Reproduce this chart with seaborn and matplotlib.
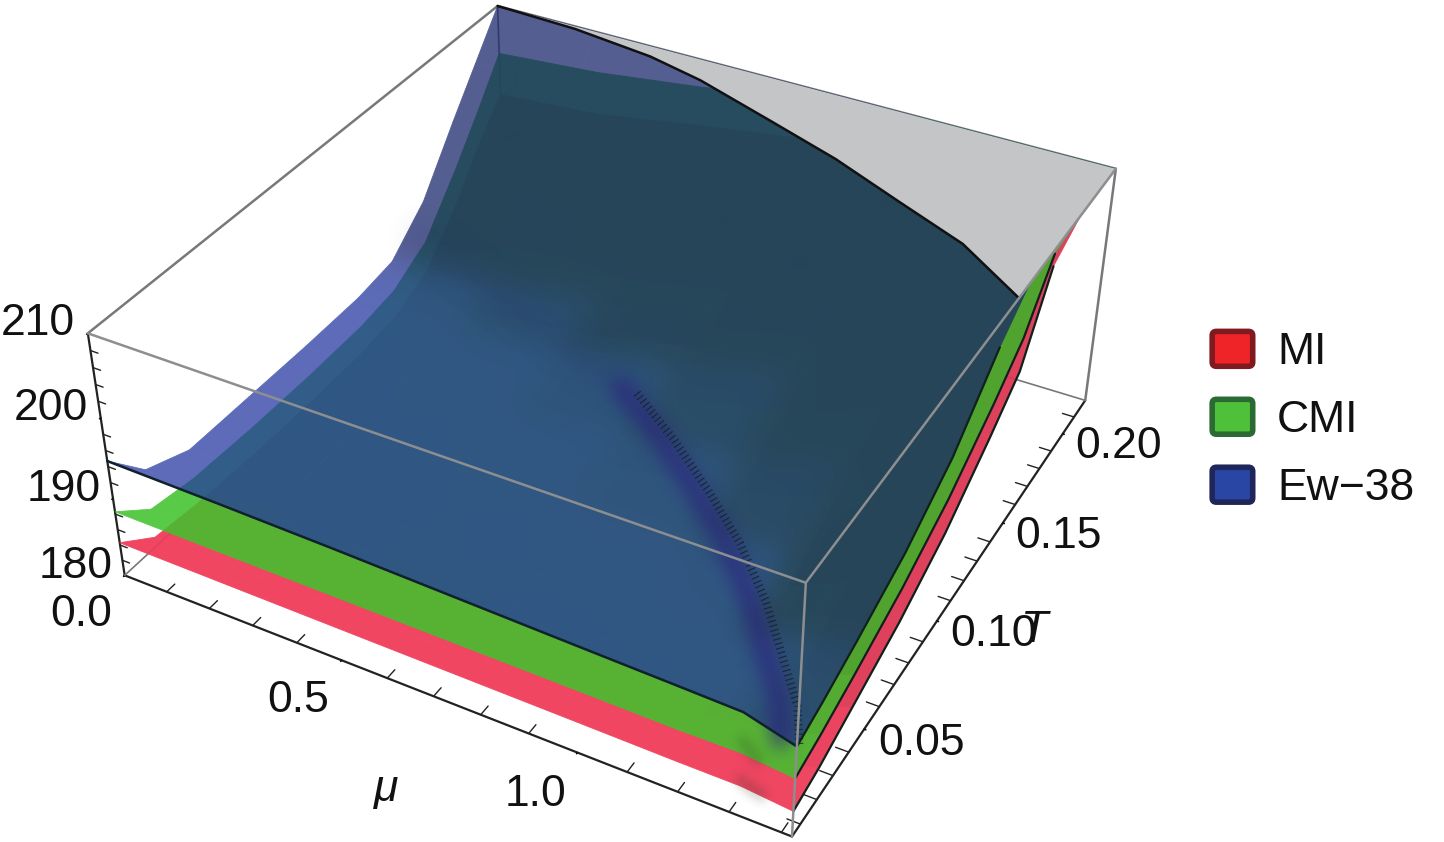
"""
Surfaces over the mu-T plane for three models (MI, CMI, Ew-38)
"""
import matplotlib
matplotlib.use("Agg")
import matplotlib.pyplot as plt
import seaborn as sns
import numpy as np
from matplotlib.legend_handler import HandlerPatch
from matplotlib.patches import FancyBboxPatch, Patch
from mpl_toolkits.mplot3d.art3d import Poly3DCollection

mu_values = [0.0, 0.25, 0.5, 0.75, 1.0, 1.2, 1.32, 1.42]
T_values = [0.005, 0.02, 0.04, 0.07, 0.10, 0.13, 0.15, 0.17, 0.19, 0.205, 0.22]

# one row per mu, one column per T
z_ew38 = [
    [194.7, 190.0, 187.8, 187.8, 187.8, 188.0, 188.8, 193.0, 200.0, 205.0, 210.0],
    [194.5, 190.0, 187.9, 187.8, 187.9, 188.5, 190.2, 194.0, 200.5, 206.0, 210.0],
    [194.2, 190.0, 188.0, 188.0, 188.6, 190.0, 192.0, 196.5, 203.0, 208.5, 210.0],
    [193.8, 190.0, 188.0, 188.6, 190.0, 192.5, 195.0, 199.5, 206.5, 210.0, 210.0],
    [193.4, 190.0, 188.5, 189.7, 192.2, 196.0, 199.5, 204.5, 210.0, 210.0, 210.0],
    [193.1, 190.0, 189.5, 192.0, 195.5, 200.5, 204.5, 209.5, 210.0, 210.0, 210.0],
    [192.9, 190.5, 192.0, 195.5, 199.5, 205.0, 208.8, 210.0, 210.0, 210.0, 210.0],
    [191.2, 192.2, 193.8, 196.5, 200.5, 206.8, 210.0, 210.0, 210.0, 210.0, 210.0],
]
z_cmi = [
    [188.3, 184.9, 184.0, 183.7, 183.7, 184.0, 184.8, 187.5, 193.5, 198.5, 203.8],
    [188.2, 184.9, 183.9, 183.7, 183.8, 184.4, 185.6, 188.5, 194.5, 199.5, 204.8],
    [188.1, 184.9, 184.0, 184.0, 184.5, 185.8, 187.4, 190.8, 196.5, 201.5, 206.5],
    [188.0, 184.9, 184.0, 184.6, 185.9, 188.1, 190.2, 193.6, 199.0, 204.0, 208.5],
    [187.9, 185.0, 184.4, 185.5, 187.8, 191.2, 194.2, 198.0, 203.5, 207.5, 210.0],
    [187.8, 185.2, 185.3, 187.6, 191.0, 195.2, 198.6, 203.0, 208.0, 210.0, 210.0],
    [187.9, 186.5, 187.6, 190.8, 194.5, 199.0, 202.5, 206.5, 210.0, 210.0, 210.0],
    [187.3, 188.2, 189.7, 192.2, 195.5, 200.0, 203.5, 209.5, 210.0, 210.0, 210.0],
]
z_mi = [
    [184.3, 181.2, 180.6, 180.2, 180.2, 180.5, 181.2, 183.5, 189.0, 194.0, 198.3],
    [184.2, 181.2, 180.5, 180.2, 180.3, 180.9, 182.0, 184.5, 190.0, 195.0, 199.3],
    [184.1, 181.2, 180.5, 180.5, 181.0, 182.2, 183.8, 186.8, 192.0, 197.0, 201.5],
    [184.0, 181.2, 180.5, 181.0, 182.3, 184.4, 186.5, 189.8, 195.0, 199.5, 203.5],
    [183.9, 181.2, 180.8, 181.8, 184.0, 187.2, 190.0, 194.0, 199.0, 202.5, 206.0],
    [183.8, 181.4, 181.6, 183.8, 187.0, 191.0, 194.3, 198.8, 203.5, 206.0, 208.0],
    [183.8, 182.5, 183.6, 186.6, 190.2, 194.8, 198.0, 202.5, 206.5, 208.5, 209.5],
    [183.2, 184.0, 185.6, 188.0, 191.3, 196.0, 199.5, 208.0, 210.0, 210.0, 210.0],
]

# where the Ew-38 surface meets the top of the box
cap_mu = [0.0, 0.2, 0.40, 0.54, 0.74, 0.92, 1.095, 1.26, 1.42]
cap_T = [0.22, 0.2185, 0.214, 0.208, 0.196, 0.185, 0.172, 0.16, 0.142]

# crease line on the Ew-38 surface
crease_mu = [0.68, 0.81, 0.94, 1.06, 1.17, 1.26, 1.34, 1.39]
crease_T = [0.118, 0.104, 0.088, 0.072, 0.054, 0.036, 0.02, 0.005]
crease_z = [190.8, 190.6, 190.4, 190.2, 190.2, 190.4, 190.6, 191.5]

# the same crease where it shows on the front of the two lower surfaces
smudge_cmi_mu = [1.30, 1.35]
smudge_cmi_T = [0.012, 0.005]
smudge_cmi_z = [186.8, 187.7]
smudge_mi_mu = [1.31, 1.36]
smudge_mi_T = [0.008, 0.005]
smudge_mi_z = [183.4, 183.6]

# soft crossover band running on from the crease to mu = 0
band_mu = [0.01, 0.257, 0.46, 0.68]
band_T = [0.165, 0.149, 0.135, 0.118]
band_z = [189.5, 189.5, 190.0, 190.8]

mu_ticks = [0.0, 0.5, 1.0]
mu_tick_labels = ['0.0', '0.5', '1.0']
T_ticks = [0.05, 0.10, 0.15, 0.20]
T_tick_labels = ['0.05', '0.10', '0.15', '0.20']
z_ticks = [180, 190, 200, 210]
z_tick_labels = ['180', '190', '200', '210']
mu_minor = [0.1, 0.2, 0.3, 0.4, 0.6, 0.7, 0.8, 0.9, 1.1, 1.2, 1.3, 1.4]
T_minor = [0.01, 0.02, 0.03, 0.04, 0.06, 0.07, 0.08, 0.09, 0.11, 0.12, 0.13, 0.14,
           0.16, 0.17, 0.18, 0.19, 0.21]
z_minor = [182, 184, 186, 188, 192, 194, 196, 198, 202, 204, 206, 208]

model_names = ['MI', 'CMI', 'Ew\u221238']

MU_LIM = (0.0, 1.42)
T_LIM = (0.005, 0.22)
Z_LIM = (180, 210)
BOX = (1, 1, 0.4)
BOX_GREY = '#77787b'


def shaded_colors(z, rgb, strength=9.0, low=0.66):
    """Per-cell colours, cells rising towards the back come out darker"""
    z = np.asarray(z)
    dz_mu, dz_T = np.gradient(z * BOX[2] / (Z_LIM[1] - Z_LIM[0]),
                              np.asarray(mu_values) / MU_LIM[1],
                              np.asarray(T_values) / (T_LIM[1] - T_LIM[0]))
    rise = np.clip(dz_T, 0, None)
    normal_z = 1 / np.sqrt(1 + dz_mu**2 + rise**2)
    factor = np.clip(1 - strength * (1 - normal_z), low, 1.0)
    factor[z >= 210] = low
    colors = np.ones(z.shape + (4,))
    colors[..., :3] = factor[..., None] * np.asarray(rgb)
    return colors


def box_blur(arr, radius, axis):
    cum = np.cumsum(arr, axis=axis)
    cum = np.concatenate([np.zeros_like(np.take(cum, [0], axis=axis)), cum], axis=axis)
    n = arr.shape[axis]
    hi = np.minimum(np.arange(n) + radius + 1, n)
    lo = np.maximum(np.arange(n) - radius, 0)
    return (np.take(cum, hi, axis=axis) - np.take(cum, lo, axis=axis)) / (2 * radius + 1)


def blur(arr, radius):
    for _ in range(3):
        arr = box_blur(box_blur(arr, radius, 0), radius, 1)
    return arr


def surface_layer(alpha, radius=0):
    """Draw a surface opaque, smooth its colours, then make the whole layer see-through"""
    # the image gets blended with its alpha twice on the way back in
    gain = np.sqrt(alpha)

    def process(img, dpi):
        out = img.copy()
        a = img[..., 3]
        if radius:
            weight = blur(a, radius)
            rgb = blur(img[..., :3] * a[..., None], radius)
            out[..., :3] = np.where(weight[..., None] > 1e-4,
                                    rgb / np.maximum(weight[..., None], 1e-4), img[..., :3])
        out[..., 3] = a * gain
        return out, 0, 0
    return process


def soft_line(radius, gain=1.0):
    def process(img, dpi):
        pad = radius * 4
        out = np.pad(img, ((pad, pad), (pad, pad), (0, 0)), mode='constant')
        a = blur(out[..., 3], radius)
        rgb = img[..., :3][img[..., 3] > 0.2].mean(axis=0)
        out[..., :3] = rgb
        out[..., 3] = np.clip(a * gain, 0, 1)
        return out, -pad, -pad
    return process


def legend_swatch(legend, orig_handle, xdescent, ydescent, width, height, fontsize):
    return FancyBboxPatch((-xdescent + 3, -ydescent + 3), width - 6, height - 6,
                          boxstyle='round,pad=0,rounding_size=3')


sns.set_theme(style='white')
plt.rcParams['font.family'] = ['Liberation Sans', 'DejaVu Sans']

fig = plt.figure(figsize=(14.44, 8.42), dpi=100)
ax = fig.add_axes([-75.5 / 1444, -229.5 / 842, 1367 / 1444, 1367 / 842], projection='3d', computed_zorder=False)
ax.set_proj_type('persp', focal_length=0.343)
ax.set_box_aspect(BOX, zoom=0.762)
ax.view_init(elev=35.9, azim=-61.3)
ax.set_xlim(*MU_LIM)
ax.set_ylim(*T_LIM)
ax.set_zlim(*Z_LIM)
ax.grid(False)
fig.patch.set_facecolor('white')
ax.patch.set_alpha(0)

for axis in (ax.xaxis, ax.yaxis, ax.zaxis):
    axis.set_pane_color((1, 1, 1, 0))
    axis.pane.set_edgecolor((1, 1, 1, 0))
    axis.line.set_color('#222222')
    axis.line.set_linewidth(1.6)
    axis._axinfo['tick'].update(inward_factor=0.028, outward_factor=0.0)
    axis._axinfo['tick']['linewidth'] = {True: 1.2, False: 1.0}
    axis._axinfo['tick']['color'] = '#222222'

ax.zaxis.set_ticks_position('lower')
ax.set_xticks(mu_ticks, labels=mu_tick_labels)
ax.set_yticks(T_ticks, labels=T_tick_labels)
ax.set_zticks(z_ticks, labels=z_tick_labels)
ax.tick_params(axis='x', labelsize=32, pad=7, colors='#111111')
ax.tick_params(axis='y', labelsize=32, pad=2, colors='#111111')
ax.tick_params(axis='z', labelsize=32, pad=-2, colors='#111111')
for tick in ax.xaxis.get_major_ticks():
    tick.label1.set_ha('right')
for tick in ax.yaxis.get_major_ticks():
    tick.label1.set_ha('left')
    tick.label1.set_va('center_baseline')
for tick in ax.zaxis.get_major_ticks():
    tick.label1.set_ha('right')
    tick.label1.set_va('baseline')
ax.yaxis._axinfo['label']['va'] = 'bottom'
ax.set_xlabel('\u03bc', fontsize=32, fontstyle='italic', labelpad=44, color='#111111')
ax.set_ylabel('T', fontsize=32, fontstyle='italic', labelpad=40, color='#111111')

MU, T = np.meshgrid(mu_values, T_values, indexing='ij')
surf_mi = ax.plot_surface(MU, T, np.array(z_mi), facecolors=shaded_colors(z_mi, (0.94, 0.23, 0.35), 1.0, 0.92),
                          rstride=1, cstride=1, linewidth=0.6, shade=False, zorder=2)
surf_cmi = ax.plot_surface(MU, T, np.array(z_cmi), facecolors=shaded_colors(z_cmi, (0.26, 0.76, 0.18), 1.0, 0.92),
                           rstride=1, cstride=1, linewidth=0.6, shade=False, zorder=3)
surf_ew = ax.plot_surface(MU, T, np.array(z_ew38), facecolors=shaded_colors(z_ew38, (0.14, 0.22, 0.63)),
                          rstride=1, cstride=1, linewidth=0.6, shade=False, zorder=4)
surf_mi.set_agg_filter(surface_layer(0.95))
surf_cmi.set_agg_filter(surface_layer(0.88))
surf_ew.set_agg_filter(surface_layer(0.74, radius=9))

# flat cap where the surfaces leave the box
cap_verts = list(zip(cap_mu, cap_T, [Z_LIM[1]] * len(cap_mu)))
cap_verts.append((MU_LIM[1], T_LIM[1], Z_LIM[1]))
cap = Poly3DCollection([cap_verts], facecolor='#c4c5c7', edgecolor='none', zorder=5)
ax.add_collection3d(cap)
ax.plot(cap_mu, cap_T, [Z_LIM[1]] * len(cap_mu), color='#111111', lw=1.8, zorder=6)

# dark outlines on the surfaces
ax.plot(mu_values, [T_LIM[0]] * len(mu_values), np.array(z_ew38)[:, 0], color='#10202c', lw=1.8, zorder=6)
for z in (z_ew38, z_cmi, z_mi):
    edge = np.array(z)[-1]
    keep = edge < Z_LIM[1]
    ax.plot([MU_LIM[1]] * keep.sum(), np.array(T_values)[keep], edge[keep], color='#10201c', lw=1.6, zorder=6)

# crease and crossover band
band, = ax.plot(band_mu, band_T, band_z, color='#1f2570', lw=18, alpha=1, zorder=5.2)
band.set_agg_filter(soft_line(9, 0.35))
soft, = ax.plot(crease_mu, crease_T, crease_z, color='#2a1f80', lw=16, zorder=5.3)
soft.set_agg_filter(soft_line(5, 0.75))
ax.plot(np.array(crease_mu) + 0.034, crease_T, crease_z, color='#10201a', lw=6,
        linestyle=(0, (0.14, 0.42)), alpha=0.75, zorder=5.4)
for xs, ys, zs in [(smudge_cmi_mu, smudge_cmi_T, smudge_cmi_z), (smudge_mi_mu, smudge_mi_T, smudge_mi_z)]:
    smudge, = ax.plot(xs, ys, zs, color='#2b3a20', lw=8, zorder=3.5)
    smudge.set_agg_filter(soft_line(3, 0.5))

# box edges
x0, x1 = MU_LIM
y0, y1 = T_LIM
z0, z1 = Z_LIM
for xs, ys, zs in [([x0, x0], [y0, y1], [z0, z0]), ([x0, x1], [y1, y1], [z0, z0]),
                   ([x0, x0], [y1, y1], [z0, z1])]:
    ax.plot(xs, ys, zs, color=BOX_GREY, lw=1.2, zorder=1)
for xs, ys, zs in [([x0, x0], [y0, y1], [z1, z1]), ([x0, x1], [y1, y1], [z1, z1]),
                   ([x1, x1], [y1, y1], [z0, z1])]:
    ax.plot(xs, ys, zs, color=BOX_GREY, lw=1.8, zorder=1.5)
for xs, ys, zs in [([x0, x1], [y0, y0], [z1, z1]), ([x1, x1], [y0, y1], [z1, z1]),
                   ([x1, x1], [y0, y0], [z0, z1])]:
    ax.plot(xs, ys, zs, color='#8d8e90', lw=1.8, zorder=8)

# minor ticks, mplot3d only draws the major ones
for m in mu_minor:
    ax.plot([m, m], [y0, y0 + 0.018 * (y1 - y0)], [z0, z0], color='#222222', lw=1, zorder=1)
for t in T_minor:
    ax.plot([x1, x1 - 0.018 * (x1 - x0)], [t, t], [z0, z0], color='#222222', lw=1, zorder=1)
for h in z_minor:
    ax.plot([x0, x0 + 0.012 * (x1 - x0)], [y0, y0], [h, h], color='#222222', lw=1, zorder=1)

handles = [Patch(facecolor='#ee2428', edgecolor='#7e1a20', linewidth=4),
           Patch(facecolor='#4fc03a', edgecolor='#2c6a33', linewidth=4),
           Patch(facecolor='#2a46a5', edgecolor='#20255a', linewidth=4)]
fig.legend(handles, model_names, loc='center left', bbox_to_anchor=(1168 / 1444, 1 - 418 / 842),
           frameon=False, fontsize=32, handlelength=1.1, handleheight=1.12,
           labelspacing=0.5, handletextpad=0.45, labelcolor='#111111',
           handler_map={Patch: HandlerPatch(patch_func=legend_swatch)})

fig.savefig('out.png', dpi=100)
